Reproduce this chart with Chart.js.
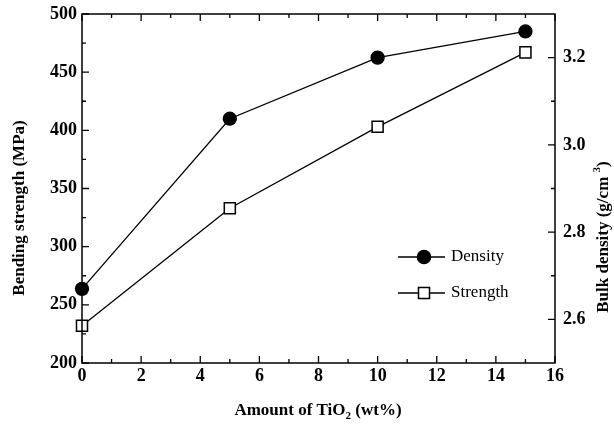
<!DOCTYPE html>
<html>
<head>
<meta charset="utf-8">
<script src="https://cdn.jsdelivr.net/npm/chart.js@4/dist/chart.umd.min.js"></script>
<style>
  body { margin: 0; background: #fff; }
  canvas { display: block; }
</style>
</head>
<body>
<canvas id="tioChart" width="614" height="429"></canvas>
<script>
// ===== data =====
const amounts = [0, 5, 10, 15];             // TiO2 wt%
const density = [2.67, 3.06, 3.20, 3.26];   // g/cm3 (right axis)
const strength = [232, 333, 403, 467];      // MPa (left axis)

const xTicks = [0, 2, 4, 6, 8, 10, 12, 14, 16];
const leftTicks = [200, 250, 300, 350, 400, 450, 500];
const rightTicks = [2.6, 2.8, 3.0, 3.2];

const FONT = "'Liberation Serif', 'Times New Roman', serif";

function setTicks(values) {
  return function (scale) {
    scale.ticks = values.map(v => ({ value: v }));
  };
}

// frame + inward tick marks (major + minor halfway)
const frameTicks = {
  id: "frameTicks",
  afterDraw(chart) {
    const { ctx, chartArea: a, scales } = chart;
    ctx.save();
    ctx.strokeStyle = "#000";
    ctx.lineWidth = 1.5;
    ctx.strokeRect(a.left, a.top, a.right - a.left, a.bottom - a.top);

    const mids = vals => vals.slice(1).map((v, i) => (v + vals[i]) / 2);
    ctx.lineWidth = 1.3;
    ctx.beginPath();
    const xs = scales.x;
    xTicks.forEach(v => {
      const p = xs.getPixelForValue(v);
      ctx.moveTo(p, a.bottom); ctx.lineTo(p, a.bottom - 7);
      ctx.moveTo(p, a.top); ctx.lineTo(p, a.top + 7);
    });
    mids(xTicks).forEach(v => {
      const p = xs.getPixelForValue(v);
      ctx.moveTo(p, a.bottom); ctx.lineTo(p, a.bottom - 4);
      ctx.moveTo(p, a.top); ctx.lineTo(p, a.top + 4);
    });
    const yl = scales.y;
    leftTicks.forEach(v => {
      const p = yl.getPixelForValue(v);
      ctx.moveTo(a.left, p); ctx.lineTo(a.left + 7, p);
    });
    mids(leftTicks).forEach(v => {
      const p = yl.getPixelForValue(v);
      ctx.moveTo(a.left, p); ctx.lineTo(a.left + 4, p);
    });
    const yr = scales.y1;
    rightTicks.forEach(v => {
      const p = yr.getPixelForValue(v);
      ctx.moveTo(a.right, p); ctx.lineTo(a.right - 7, p);
    });
    mids(rightTicks).forEach(v => {
      const p = yr.getPixelForValue(v);
      ctx.moveTo(a.right, p); ctx.lineTo(a.right - 4, p);
    });
    ctx.stroke();
    ctx.restore();
  }
};

// axis titles with sub/superscripts
const axisTitles = {
  id: "axisTitles",
  afterDraw(chart) {
    const { ctx } = chart;
    ctx.save();
    ctx.fillStyle = "#000";
    ctx.textBaseline = "alphabetic";

    // left
    ctx.save();
    ctx.translate(24, 208);
    ctx.rotate(-Math.PI / 2);
    ctx.font = "bold 17px " + FONT;
    ctx.textAlign = "center";
    ctx.fillText("Bending strength (MPa)", 0, 0);
    ctx.restore();

    // bottom
    const big = "bold 17px " + FONT, small = "bold 11px " + FONT;
    const parts = [["Amount of TiO", big, 0], ["2", small, 4], [" (wt%)", big, 0]];
    let total = 0;
    parts.forEach(p => { ctx.font = p[1]; total += ctx.measureText(p[0]).width; });
    let x = 318 - total / 2;
    ctx.textAlign = "left";
    parts.forEach(p => { ctx.font = p[1]; ctx.fillText(p[0], x, 415 + p[2]); x += ctx.measureText(p[0]).width; });

    // right
    ctx.save();
    ctx.translate(608, 237);
    ctx.rotate(-Math.PI / 2);
    const rparts = [["Bulk density (g/cm ", big, 0], ["3", small, -8], [")", big, 0]];
    total = 0;
    rparts.forEach(p => { ctx.font = p[1]; total += ctx.measureText(p[0]).width; });
    x = -total / 2;
    rparts.forEach(p => { ctx.font = p[1]; ctx.fillText(p[0], x, p[2]); x += ctx.measureText(p[0]).width; });
    ctx.restore();

    ctx.restore();
  }
};

// legend inside the plot
const insideLegend = {
  id: "insideLegend",
  afterDraw(chart) {
    const { ctx } = chart;
    ctx.save();
    chart.data.datasets.forEach((ds, i) => {
      const y = 257 + i * 36;
      ctx.strokeStyle = "#000";
      ctx.lineWidth = 1.3;
      ctx.beginPath();
      ctx.moveTo(398, y); ctx.lineTo(445, y);
      ctx.stroke();
      ctx.fillStyle = ds.pointBackgroundColor;
      ctx.lineWidth = 1.5;
      if (ds.pointStyle === "circle") {
        ctx.beginPath();
        ctx.arc(424, y, ds.pointRadius, 0, Math.PI * 2);
        ctx.fill();
        ctx.stroke();
      } else {
        const s = ds.pointRadius * Math.SQRT1_2;
        ctx.fillRect(424 - s, y - s, 2 * s, 2 * s);
        ctx.strokeRect(424 - s, y - s, 2 * s, 2 * s);
      }
      ctx.fillStyle = "#000";
      ctx.font = "17px " + FONT;
      ctx.textBaseline = "middle";
      ctx.fillText(ds.label, 451, y);
    });
    ctx.restore();
  }
};

const noPad = s => { s.paddingTop = 0; s.paddingBottom = 0; s.paddingLeft = 0; s.paddingRight = 0; };

new Chart(document.getElementById("tioChart"), {
  type: "scatter",
  data: {
    datasets: [
      {
        label: "Density",
        data: amounts.map((a, i) => ({ x: a, y: density[i] })),
        yAxisID: "y1",
        showLine: true,
        borderColor: "#000",
        borderWidth: 1.3,
        pointStyle: "circle",
        pointRadius: 6.5,
        pointBackgroundColor: "#000",
        pointBorderColor: "#000",
        clip: false,
      },
      {
        label: "Strength",
        data: amounts.map((a, i) => ({ x: a, y: strength[i] })),
        yAxisID: "y",
        showLine: true,
        borderColor: "#000",
        borderWidth: 1.3,
        pointStyle: "rect",
        pointRadius: 7.8,
        pointBorderWidth: 1.5,
        pointBackgroundColor: "#fff",
        pointBorderColor: "#000",
        clip: false,
      },
    ],
  },
  options: {
    responsive: false,
    animation: false,
    layout: { padding: { top: 14, left: 0, right: 0, bottom: 0 } },
    plugins: { legend: { display: false }, tooltip: { enabled: false } },
    scales: {
      x: {
        type: "linear",
        position: "bottom",
        min: 0,
        max: 16,
        afterBuildTicks: setTicks(xTicks),
        afterFit: s => { s.height = 66; noPad(s); },
        grid: { display: false, drawTicks: false },
        border: { display: false },
        ticks: { color: "#000", padding: 3, maxRotation: 0, font: { family: FONT, size: 18, weight: "bold" } },
      },
      y: {
        position: "left",
        min: 200,
        max: 500,
        afterBuildTicks: setTicks(leftTicks),
        afterFit: s => { s.width = 82; noPad(s); },
        grid: { display: false, drawTicks: false },
        border: { display: false },
        ticks: { color: "#000", padding: 5, font: { family: FONT, size: 18, weight: "bold" } },
      },
      y1: {
        position: "right",
        min: 2.5,
        max: 3.3,
        afterBuildTicks: setTicks(rightTicks),
        afterFit: s => { s.width = 59; noPad(s); },
        grid: { display: false, drawTicks: false },
        border: { display: false },
        ticks: {
          color: "#000",
          padding: 8,
          font: { family: FONT, size: 18, weight: "bold" },
          callback: v => v.toFixed(1),
        },
      },
    },
  },
  plugins: [frameTicks, axisTitles, insideLegend],
});
</script>
</body>
</html>
